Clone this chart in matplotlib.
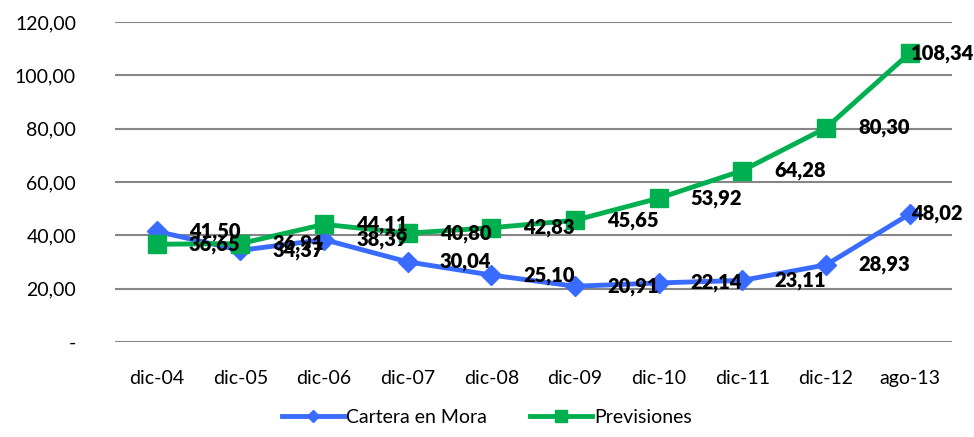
import matplotlib.pyplot as plt
from matplotlib.ticker import FuncFormatter

plt.rcParams['font.family'] = ['Lato', 'DejaVu Sans']

categories = ['dic-04', 'dic-05', 'dic-06', 'dic-07', 'dic-08',
              'dic-09', 'dic-10', 'dic-11', 'dic-12', 'ago-13']
cartera_mora = [41.50, 34.37, 38.39, 30.04, 25.10, 20.91, 22.14, 23.11, 28.93, 48.02]
previsiones = [36.65, 36.91, 44.11, 40.80, 42.83, 45.65, 53.92, 64.28, 80.30, 108.34]

blue = '#3A6BFF'
green = '#00B050'


def fmt(v):
    return f'{v:.2f}'.replace('.', ',')


fig = plt.figure(figsize=(9.74, 4.37), dpi=100)
ax = fig.add_axes([0.118, 0.2174, 0.859, 0.7323])

x = list(range(len(categories)))
ax.plot(x, cartera_mora, color=blue, lw=3.5, marker='D', ms=10,
        mec=blue, label='Cartera en Mora', zorder=3)
ax.plot(x, previsiones, color=green, lw=3.5, marker='s', ms=13,
        mec=green, label='Previsiones', zorder=3)

# data labels, to the right of each point (last one pulled in)
for series in (previsiones, cartera_mora):
    for i, v in enumerate(series):
        dx = 1 if i == len(series) - 1 else 23
        ax.annotate(fmt(v), (i, v), xytext=(dx, 0), textcoords='offset points',
                    ha='left', va='center', fontsize=14.5, fontweight='heavy',
                    color='black', zorder=4)

ax.set_xlim(-0.5, len(categories) - 0.5)
ax.set_ylim(0, 120)
ax.set_yticks(range(0, 121, 20))
ax.yaxis.set_major_formatter(FuncFormatter(lambda v, p: '-' if v == 0 else fmt(v)))
ax.set_xticks(x)
ax.set_xticklabels(categories)
ax.tick_params(length=0, labelsize=14, colors='black')
ax.tick_params(axis='y', pad=28)
ax.tick_params(axis='x', pad=20)

ax.grid(axis='y', color='#868686', lw=1.5)
ax.set_axisbelow(True)
for s in ax.spines.values():
    s.set_visible(False)

fig.legend(loc='lower center', ncol=2, frameon=False, fontsize=14,
           bbox_to_anchor=(0.5, -0.015), handlelength=3.2, columnspacing=2.2,
           handletextpad=0.1, markerscale=0.65)

fig.savefig('out.png', dpi=100)
